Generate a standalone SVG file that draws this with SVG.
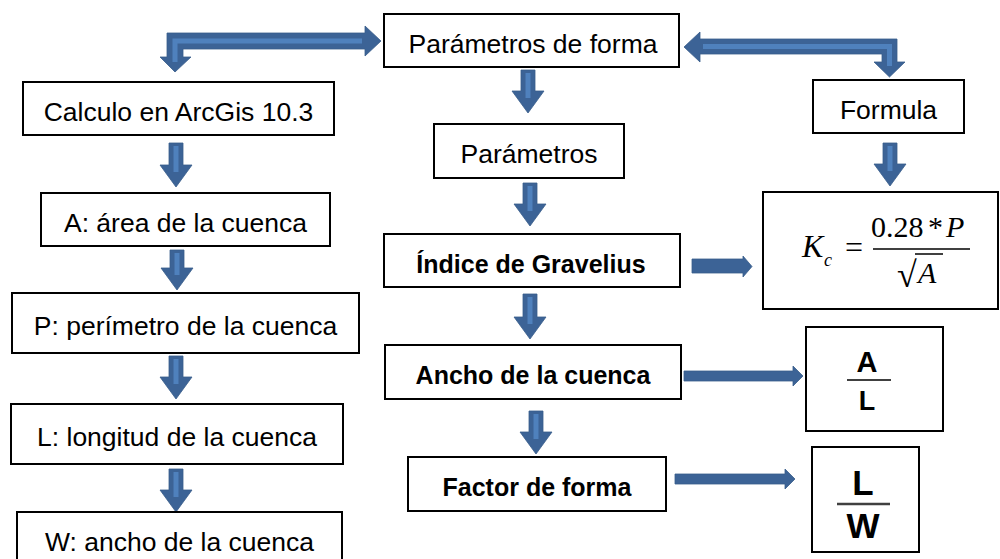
<svg xmlns="http://www.w3.org/2000/svg" width="1000" height="559" viewBox="0 0 1000 559">
<style>
.box{fill:#fff;stroke:#000;stroke-width:2}
.t{font-family:"Liberation Sans",Arial,sans-serif;font-size:26.5px;fill:#000;text-anchor:middle}
.b{font-family:"Liberation Sans",Arial,sans-serif;font-size:25px;font-weight:bold;fill:#000;text-anchor:middle}
.arr{fill:#3C6396;stroke:#385D8A;stroke-width:0.8}
.stripe{fill:none;stroke:#4F81BD;stroke-width:5}
.fr{font-family:"Liberation Sans",Arial,sans-serif;font-weight:bold;fill:#000;text-anchor:middle}
.ser{font-family:"Liberation Serif","Times New Roman",serif;fill:#000}
.fl{stroke:#404040}
</style>
<rect width="1000" height="559" fill="#fff"/>
<g id="connectors">
  <polygon class="arr" points="381,41 365,26 365,33 167,33 167,57 160,57 175,72 191,57 183,57 183,49 365,49 365,56"/>
  <polyline class="stripe" points="362,41 175,41 175,62"/>
  <polygon class="arr" points="684,47 700,32 700,39 897,39 897,62 905,62 889.5,77 874,62 882,62 882,54 700,54 700,62"/>
  <polyline class="stripe" points="703,46.5 889.5,46.5 889.5,66"/>
  <polygon class="arr" points="169,143 183,143 183,165 192,165 176,187 160,165 169,165"/>
  <line class="stripe" x1="176" y1="146" x2="176" y2="172"/>
  <polygon class="arr" points="170,250 184,250 184,268 193,268 177,290 161,268 170,268"/>
  <line class="stripe" x1="177" y1="253" x2="177" y2="275"/>
  <polygon class="arr" points="169,356 183,356 183,377 192,377 176,399 160,377 169,377"/>
  <line class="stripe" x1="176" y1="359" x2="176" y2="384"/>
  <polygon class="arr" points="169,469 183,469 183,490 192,490 176,512 160,490 169,490"/>
  <line class="stripe" x1="176" y1="472" x2="176" y2="497"/>
  <polygon class="arr" points="521,70 535,70 535,91 544,91 528,113 512,91 521,91"/>
  <line class="stripe" x1="528" y1="73" x2="528" y2="98"/>
  <polygon class="arr" points="523,183 537,183 537,204 546,204 530,226 514,204 523,204"/>
  <line class="stripe" x1="530" y1="186" x2="530" y2="211"/>
  <polygon class="arr" points="523,294 537,294 537,317 546,317 530,339 514,317 523,317"/>
  <line class="stripe" x1="530" y1="297" x2="530" y2="324"/>
  <polygon class="arr" points="529,411 543,411 543,432 552,432 536,454 520,432 529,432"/>
  <line class="stripe" x1="536" y1="414" x2="536" y2="439"/>
  <polygon class="arr" points="883,143 897,143 897,164 906,164 890,186 874,164 883,164"/>
  <line class="stripe" x1="890" y1="146" x2="890" y2="171"/>
  <polygon class="arr" points="692,259 743,259 743,256 752,266.5 743,277 743,273 692,273"/>
  <polygon class="arr" points="684,371 793,371 793,366 803,376 793,386 793,381 684,381"/>
  <polygon class="arr" points="675,474 785,474 785,469 795,479 785,489 785,484 675,484"/>
</g>
<g id="n-forma"><rect class="box" x="384" y="14" width="295" height="53"/><text class="t" x="533" y="53">Parámetros de forma</text></g>
<g id="n-calc"><rect class="box" x="23" y="82" width="311" height="53"/><text class="t" x="178.5" y="121">Calculo en ArcGis 10.3</text></g>
<g id="n-area"><rect class="box" x="41" y="193" width="289" height="53"/><text class="t" x="185.5" y="232">A: área de la cuenca</text></g>
<g id="n-perim"><rect class="box" x="12" y="293" width="347" height="60"/><text class="t" x="185.5" y="335">P: perímetro de la cuenca</text></g>
<g id="n-long"><rect class="box" x="11" y="404" width="332" height="60"/><text class="t" x="177" y="446">L: longitud de la cuenca</text></g>
<g id="n-ancho"><rect class="box" x="17" y="512" width="325" height="60"/><text class="t" x="179.5" y="551">W: ancho de la cuenca</text></g>
<g id="n-formula"><rect class="box" x="813" y="80" width="151" height="53"/><text class="t" x="888.5" y="119">Formula</text></g>
<g id="n-param"><rect class="box" x="434" y="124" width="190" height="54"/><text class="t" x="529" y="163">Parámetros</text></g>
<g id="n-indice"><rect class="box" x="384" y="234" width="296" height="53"/><text class="b" x="531" y="273">Índice de Gravelius</text></g>
<g id="n-anchoc"><rect class="box" x="385" y="345" width="296" height="54"/><text class="b" x="533" y="384">Ancho de la cuenca</text></g>
<g id="n-factor"><rect class="box" x="408" y="457" width="258" height="54"/><text class="b" x="537" y="496">Factor de forma</text></g>
<g id="n-kc">
  <rect class="box" x="763" y="192" width="235" height="117"/>
  <text class="ser" x="802" y="257" font-size="32" font-style="italic">K</text>
  <text class="ser" x="824" y="266" font-size="18" font-style="italic">c</text>
  <text class="ser" x="845" y="258" font-size="32">=</text>
  <text class="ser" x="871" y="237" font-size="30">0.28</text>
  <text class="ser" x="928" y="237" font-size="30">*</text>
  <text class="ser" x="946" y="237" font-size="30" font-style="italic">P</text>
  <line x1="873" y1="249" x2="970" y2="249" stroke="#000" stroke-width="1.5"/>
  <text class="ser" x="897" y="287" font-size="36">√</text>
  <line x1="915" y1="254" x2="943" y2="254" stroke="#000" stroke-width="1.5"/>
  <text class="ser" x="918" y="283" font-size="30" font-style="italic">A</text>
</g>
<g id="n-al">
  <rect class="box" x="806" y="327" width="137" height="104"/>
  <text class="fr" x="867" y="372" font-size="29">A</text>
  <line class="fl" x1="847" y1="380" x2="891" y2="380" stroke-width="2"/>
  <text class="fr" x="867" y="410" font-size="27">L</text>
</g>
<g id="n-lw">
  <rect class="box" x="812" y="447" width="107" height="105"/>
  <text class="fr" x="863" y="495" font-size="35">L</text>
  <line class="fl" x1="837" y1="504" x2="890" y2="504" stroke-width="2.5"/>
  <text class="fr" x="863" y="538" font-size="35">W</text>
</g>
</svg>
